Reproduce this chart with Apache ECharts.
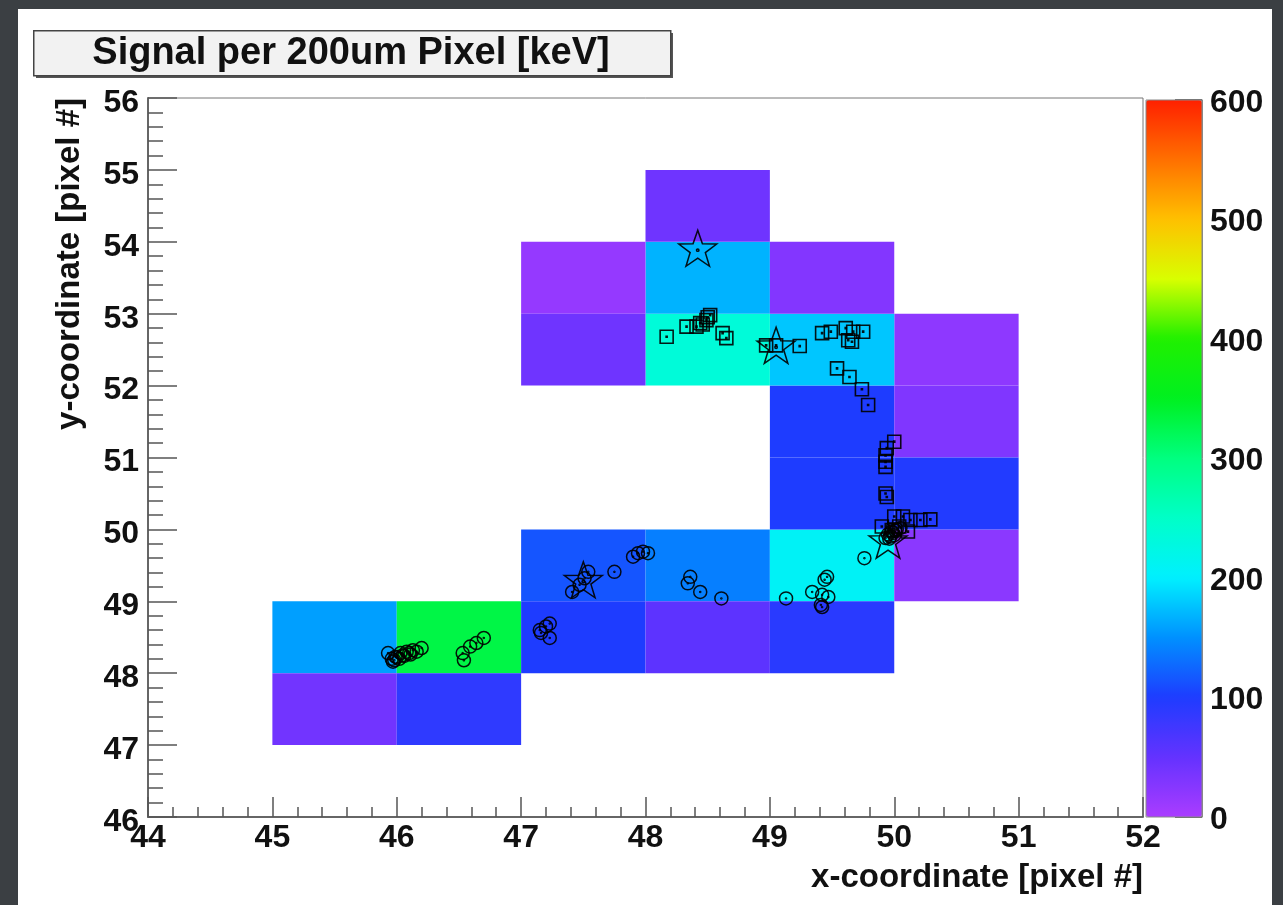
<!DOCTYPE html>
<html><head><meta charset="utf-8">
<script src="https://cdn.jsdelivr.net/npm/echarts@6/dist/echarts.min.js"></script>
<style>
html,body{margin:0;padding:0;width:1283px;height:905px;overflow:hidden;background:#3b3f43;}
#panel{position:absolute;left:18px;top:9px;width:1254px;height:896px;background:#ffffff;}
#c{position:absolute;left:0;top:0;width:1283px;height:905px;}
</style>
</head><body><div id="panel"></div><div id="c"></div>
<script>
// ---- data ----
const xTickLabels = [44, 45, 46, 47, 48, 49, 50, 51, 52];
const yTickLabels = [46, 47, 48, 49, 50, 51, 52, 53, 54, 55, 56];
const zTickLabels = [0, 100, 200, 300, 400, 500, 600];

// pixel cells: lower-left corner (x, y) and signal [keV]
const cellX =     [45, 45, 46, 46, 47, 47, 48, 48, 49, 49, 50, 49, 49, 50, 50, 50, 49, 48, 48, 48, 47, 47, 49];
const cellY =     [48, 47, 48, 47, 49, 48, 49, 48, 49, 48, 49, 51, 50, 51, 50, 52, 52, 52, 53, 54, 53, 52, 53];
const cellValue = [158, 40, 330, 88, 115, 100, 140, 55, 208, 92, 22, 100, 100, 30, 97, 20, 178, 235, 168, 42, 15, 42, 28];

// hits: circles
const circleX = [45.93, 45.97, 45.99, 46.03, 46.08, 46.13, 46.20, 45.96, 46.00, 46.05, 46.10, 45.98, 46.02, 46.06, 46.11, 46.16,
                 46.53, 46.54, 46.59, 46.64, 46.70,
                 47.15, 47.20, 47.23, 47.23, 47.16,
                 47.41, 47.47, 47.51, 47.54, 47.75,
                 47.90, 47.94, 48.02, 47.98,
                 48.36, 48.34, 48.44, 48.61,
                 49.13, 49.34, 49.42, 49.47, 49.44, 49.46, 49.42, 49.41, 49.76,
                 49.97, 49.99, 50.01, 49.96, 49.95, 49.98, 50.02, 50.00, 49.93, 50.05];
const circleY = [48.28, 48.16, 48.23, 48.28, 48.30, 48.32, 48.35, 48.20, 48.22, 48.25, 48.28, 48.18, 48.20, 48.24, 48.26, 48.30,
                 48.28, 48.18, 48.37, 48.42, 48.49,
                 48.60, 48.65, 48.69, 48.49, 48.56,
                 49.13, 49.23, 49.32, 49.41, 49.41,
                 49.62, 49.67, 49.67, 49.69,
                 49.34, 49.25, 49.13, 49.04,
                 49.04, 49.13, 49.09, 49.06, 49.30, 49.34, 48.92, 48.95, 49.60,
                 49.90, 49.95, 49.98, 49.87, 49.93, 49.97, 50.00, 49.92, 49.88, 50.02];

// hits: squares
const squareX = [48.17, 48.33, 48.41, 48.44, 48.52, 48.49, 48.62, 48.65, 48.46, 48.50,
                 48.97, 49.05, 49.24,
                 49.42, 49.49, 49.61, 49.67, 49.75, 49.66, 49.63,
                 49.54, 49.64, 49.74, 49.79,
                 50.00, 49.94, 49.93, 49.93, 49.93, 49.93, 49.94,
                 50.00, 50.07, 50.13, 50.21, 50.29, 50.11, 50.04, 49.98, 49.90];
const squareY = [52.68, 52.82, 52.82, 52.87, 52.98, 52.91, 52.73, 52.66, 52.85, 52.95,
                 52.56, 52.56, 52.55,
                 52.73, 52.75, 52.80, 52.75, 52.75, 52.61, 52.63,
                 52.24, 52.12, 51.95, 51.73,
                 51.22, 51.13, 51.03, 50.94, 50.87, 50.50, 50.45,
                 50.18, 50.18, 50.13, 50.13, 50.14, 49.97, 50.04, 49.99, 50.04];

// hits: stars
const starX = [48.42, 49.05, 47.50, 49.95];
const starY = [53.91, 52.56, 49.30, 49.85];

// colour palette stops (0..600 every 50)
const paletteColors = ['#aa3cff', '#6432ff', '#1e3cff', '#0090ff', '#00f0ff', '#00ffc8',
                       '#00ff80', '#00f020', '#20f000', '#d8ff00', '#ffc000', '#ff7000', '#ff2000'];

// ---- chart ----
const FONT = '"Liberation Sans", Arial, Helvetica, sans-serif';
const circlePath = 'path://M0 -10A10 10 0 1 1 0 10A10 10 0 1 1 0 -10ZM0 -0.8A0.8 0.8 0 1 1 0 0.8A0.8 0.8 0 1 1 0 -0.8Z';
const squarePath = 'path://M-10 -10L10 -10L10 10L-10 10ZM-0.8 -0.8L0.8 -0.8L0.8 0.8L-0.8 0.8Z';
const starPath = 'path://M0 -10L2.351 -3.236L9.511 -3.09L3.804 1.236L5.878 8.09L0 4L-5.878 8.09L-3.804 1.236L-9.511 -3.09L-2.351 -3.236ZM0 -0.6A0.6 0.6 0 1 1 0 0.6A0.6 0.6 0 1 1 0 -0.6Z';

const chart = echarts.init(document.getElementById('c'), null, {renderer: 'canvas'});

const axisLabelStyle = {fontFamily: FONT, fontWeight: 'bold', fontSize: 32, color: '#111'};

const option = {
  backgroundColor: 'transparent',
  animation: false,
  grid: [
    {left: 148, top: 98, width: 995, height: 719, show: true, borderColor: '#777', borderWidth: 1, backgroundColor: 'transparent'},
    {left: 1146, top: 100, width: 56, height: 717, show: true, borderColor: '#888', borderWidth: 1, backgroundColor: 'transparent', z: 5}
  ],
  xAxis: [
    {type: 'value', gridIndex: 0, min: 44, max: 52, interval: 1,
     axisLine: {show: true, onZero: false, lineStyle: {color: '#666', width: 2}},
     axisTick: {show: true, inside: true, length: 20, lineStyle: {color: '#555', width: 1.5}},
     minorTick: {show: true, splitNumber: 5, length: 10, lineStyle: {color: '#555', width: 1.5}},
     splitLine: {show: false},
     axisLabel: Object.assign({margin: 5, showMinLabel: true, showMaxLabel: true, hideOverlap: false,
       formatter: v => xTickLabels.includes(v) ? String(v) : ''}, axisLabelStyle)},
    {type: 'value', gridIndex: 1, min: 0, max: 1, show: false}
  ],
  yAxis: [
    {type: 'value', gridIndex: 0, min: 46, max: 56, interval: 1,
     axisLine: {show: true, onZero: false, lineStyle: {color: '#666', width: 2}},
     axisTick: {show: true, inside: true, length: 29, lineStyle: {color: '#555', width: 1.5}},
     minorTick: {show: true, splitNumber: 5, length: 15, lineStyle: {color: '#555', width: 1.5}},
     splitLine: {show: false},
     axisLabel: Object.assign({margin: 9, verticalAlign: 'top', lineHeight: 10, showMinLabel: true, showMaxLabel: true, hideOverlap: false,
       formatter: v => yTickLabels.includes(v) ? String(v) : ''}, axisLabelStyle)},
    {type: 'value', gridIndex: 1, min: 0, max: 600, interval: 100, position: 'right',
     axisLine: {show: true, onZero: false, lineStyle: {color: '#888', width: 1}},
     axisTick: {show: true, inside: true, length: 27, lineStyle: {color: '#333', width: 1.5}},
     splitLine: {show: false},
     axisLabel: Object.assign({margin: 8, verticalAlign: 'top', lineHeight: 6, showMinLabel: true, showMaxLabel: true,
       formatter: v => zTickLabels.includes(v) ? String(v) : ''}, axisLabelStyle)}
  ],
  visualMap: {
    type: 'continuous', min: 0, max: 600, dimension: 2, seriesIndex: 0,
    calculable: false, hoverLink: false, text: null, padding: 0,
    left: 1146, top: 100, itemWidth: 56, itemHeight: 717, z: 1,
    inRange: {color: paletteColors}
  },
  series: [
    {
      type: 'custom', xAxisIndex: 0, yAxisIndex: 0, z: 1,
      encode: {x: 0, y: 1},
      data: cellX.map((x, i) => [x, cellY[i], cellValue[i]]),
      renderItem: function (params, api) {
        const x = api.value(0), y = api.value(1);
        const p0 = api.coord([x, y + 1]);
        const p1 = api.coord([x + 1, y]);
        return {type: 'rect', shape: {x: p0[0], y: p0[1], width: p1[0] - p0[0], height: p1[1] - p0[1]},
                style: {fill: api.visual('color')}};
      }
    },
    {
      type: 'scatter', xAxisIndex: 0, yAxisIndex: 0, z: 3,
      symbol: circlePath, symbolSize: 13,
      itemStyle: {color: 'none', borderColor: '#000', borderWidth: 1.5, opacity: 0.9},
      data: circleX.map((x, i) => [x, circleY[i]])
    },
    {
      type: 'scatter', xAxisIndex: 0, yAxisIndex: 0, z: 3,
      symbol: squarePath, symbolSize: 13,
      itemStyle: {color: 'none', borderColor: '#000', borderWidth: 1.6, opacity: 0.9},
      data: squareX.map((x, i) => [x, squareY[i]])
    },
    {
      type: 'scatter', xAxisIndex: 0, yAxisIndex: 0, z: 4,
      symbol: starPath, symbolSize: [38, 36],
      itemStyle: {color: 'none', borderColor: '#000', borderWidth: 1.5, opacity: 0.9},
      data: starX.map((x, i) => [x, starY[i]])
    }
  ],
  graphic: [
    {type: 'rect', left: 36, top: 33, shape: {width: 637, height: 45}, style: {fill: '#555'}, z: 10},
    {type: 'rect', left: 33, top: 30, shape: {width: 637, height: 45}, style: {fill: '#f2f2f2', stroke: '#444', lineWidth: 1.5}, z: 11},
    {type: 'text', x: 351, y: 54, z: 12,
     style: {text: 'Signal per 200um Pixel [keV]', fontFamily: FONT, fontWeight: 'bold', fontSize: 38,
             fill: '#111', align: 'center', verticalAlign: 'middle'}},
    {type: 'text', x: 1143, y: 878, z: 12,
     style: {text: 'x-coordinate [pixel #]', fontFamily: FONT, fontWeight: 'bold', fontSize: 33,
             fill: '#111', align: 'right', verticalAlign: 'middle'}},
    {type: 'text', x: 70, y: 98, rotation: Math.PI / 2, z: 12,
     style: {text: 'y-coordinate [pixel #]', fontFamily: FONT, fontWeight: 'bold', fontSize: 33,
             fill: '#111', align: 'right', verticalAlign: 'middle'}}
  ]
};
chart.setOption(option);
</script>
</body></html>
